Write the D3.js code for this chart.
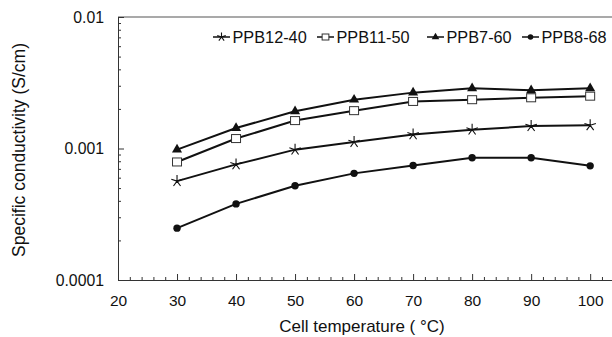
<!DOCTYPE html>
<html>
<head>
<meta charset="utf-8">
<script src="https://cdn.jsdelivr.net/npm/d3@7"></script>
<style>
  body { margin: 0; background: #fff; }
  text { font-family: "Liberation Sans", Arial, sans-serif; fill: #111; }
</style>
</head>
<body>
<div id="chart"></div>
<script>
// data
const temps = [30, 40, 50, 60, 70, 80, 90, 100];
const ppb12_40 = [0.000565, 0.000757, 0.00098, 0.00112, 0.00128, 0.00139, 0.00148, 0.0015];
const ppb11_50 = [0.00079, 0.00119, 0.00163, 0.00194, 0.00228, 0.00235, 0.00243, 0.0025];
const ppb7_60 = [0.00098, 0.00143, 0.00192, 0.00235, 0.00266, 0.00287, 0.00277, 0.00287];
const ppb8_68 = [0.000248, 0.000379, 0.000521, 0.000647, 0.000743, 0.00085, 0.00085, 0.000738];
const seriesNames = ["PPB12-40", "PPB11-50", "PPB7-60", "PPB8-68"];
const xTicks = [20, 30, 40, 50, 60, 70, 80, 90, 100];
const yTicks = [0.0001, 0.001, 0.01];
const yTickLabels = ["0.0001", "0.001", "0.01"];

const W = 612, H = 337;
const svg = d3.select("#chart").append("svg")
  .attr("width", W).attr("height", H);

const x = d3.scaleLinear().domain([20, 103.7]).range([118, 612]);
const y = d3.scaleLog().domain([0.0001, 0.01]).range([280, 17]);

// top border
svg.append("line")
  .attr("x1", 118).attr("x2", 612)
  .attr("y1", 17).attr("y2", 17)
  .attr("stroke", "#555").attr("stroke-width", 1.2);

// x axis, ticks pointing inward
const xMinor = d3.range(22, 104, 2).filter(d => d % 10 !== 0);
svg.append("g")
  .attr("transform", "translate(0,280)")
  .call(d3.axisBottom(x).tickValues(xMinor).tickSize(-3).tickFormat(""))
  .call(g => g.select(".domain").remove());
const xAxis = svg.append("g")
  .attr("transform", "translate(0,280)")
  .call(d3.axisBottom(x).tickValues(xTicks).tickSizeInner(-6).tickSizeOuter(0).tickPadding(15));
xAxis.selectAll("text").attr("font-size", 15.5).attr("dy", "0.71em");

// y axis
const yMinor = [];
[0.0001, 0.001].forEach(b => d3.range(2, 10).forEach(k => yMinor.push(b * k)));
svg.append("g")
  .attr("transform", "translate(118,0)")
  .call(d3.axisLeft(y).tickValues(yMinor).tickSize(-3).tickFormat(""))
  .call(g => g.select(".domain").remove());
const yAxis = svg.append("g")
  .attr("transform", "translate(118,0)")
  .call(d3.axisLeft(y).tickValues(yTicks).tickSizeInner(-6).tickSizeOuter(0)
    .tickPadding(14).tickFormat((d, i) => yTickLabels[i]));
yAxis.selectAll("text").attr("font-size", 15.8);

svg.selectAll(".domain, .tick line").attr("stroke", "#333");

// axis titles
svg.append("text")
  .attr("x", 362).attr("y", 332)
  .attr("text-anchor", "middle").attr("font-size", 17)
  .text("Cell temperature ( °C)");
svg.append("text")
  .attr("transform", "translate(25,150) rotate(-90)")
  .attr("text-anchor", "middle").attr("font-size", 17.5)
  .text("Specific conductivity (S/cm)");

// five-armed asterisk
function starPath(r) {
  let p = "";
  for (let k = 0; k < 5; k++) {
    const a = -Math.PI / 2 + k * 2 * Math.PI / 5;
    p += `M0,0L${(r * Math.cos(a)).toFixed(2)},${(r * Math.sin(a)).toFixed(2)}`;
  }
  return p;
}

function drawMarker(g, kind, cx, cy, small) {
  const k = small ? 0.75 : 1;
  if (kind === 0) {
    g.append("path")
      .attr("d", starPath(6 * k))
      .attr("transform", `translate(${cx},${cy})`)
      .attr("fill", "none").attr("stroke", "#111").attr("stroke-width", 1.1);
  } else if (kind === 1) {
    g.append("rect")
      .attr("x", cx - 4.5 * k).attr("y", cy - 4 * k).attr("width", 9 * k).attr("height", 8 * k)
      .attr("fill", "#fff").attr("stroke", "#333").attr("stroke-width", 1);
  } else if (kind === 2) {
    g.append("path")
      .attr("d", d3.symbol(d3.symbolTriangle, 44 * k * k)())
      .attr("transform", `translate(${cx},${cy})`)
      .attr("fill", "#111");
  } else {
    g.append("circle")
      .attr("cx", cx).attr("cy", cy).attr("r", 3.7 * k)
      .attr("fill", "#111");
  }
}

const allSeries = [ppb12_40, ppb11_50, ppb7_60, ppb8_68];
const line = d3.line().x((d, i) => x(temps[i])).y(d => y(d));

allSeries.forEach((vals, s) => {
  svg.append("path")
    .datum(vals)
    .attr("d", line)
    .attr("fill", "none").attr("stroke", "#111").attr("stroke-width", 2);
  const mg = svg.append("g");
  vals.forEach((v, i) => drawMarker(mg, s, x(temps[i]), y(v), false));
});

// legend
const legendX = [213, 317, 427, 522];
seriesNames.forEach((name, s) => {
  const g = svg.append("g");
  const lx = legendX[s], ly = 37;
  g.append("line")
    .attr("x1", lx).attr("x2", lx + 17)
    .attr("y1", ly).attr("y2", ly)
    .attr("stroke", "#111").attr("stroke-width", 1.5);
  drawMarker(g, s, lx + 8.5, ly, true);
  g.append("text")
    .attr("x", lx + 19.5).attr("y", 43.3)
    .attr("font-size", 16.3)
    .text(name);
});
</script>
</body>
</html>
